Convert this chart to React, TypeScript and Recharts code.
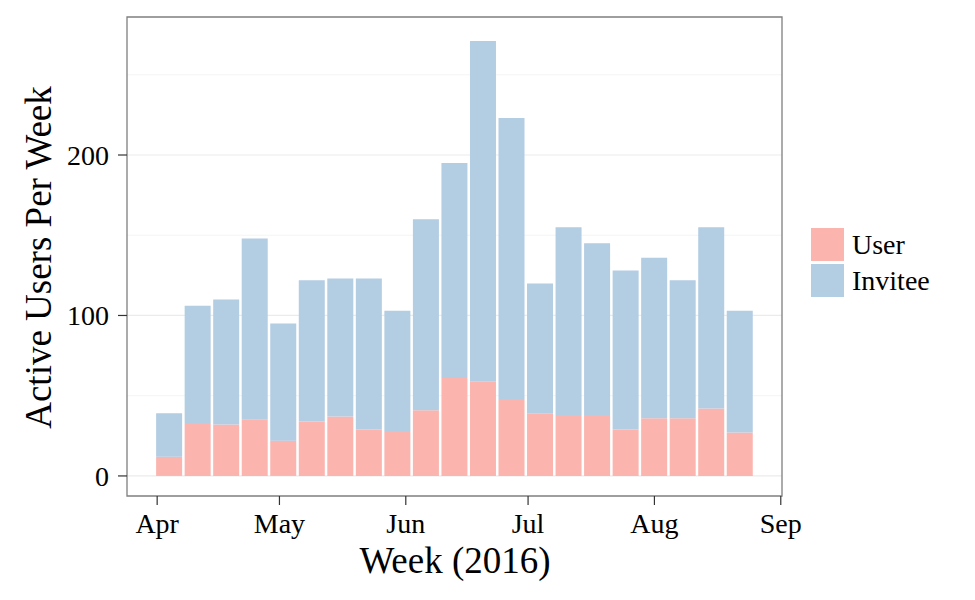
import React from 'react';
import { BarChart, Bar, XAxis, YAxis, CartesianGrid, Legend, ReferenceArea, Label } from 'recharts';

const weeks = [
  '2016-04-04', '2016-04-11', '2016-04-18', '2016-04-25', '2016-05-02', '2016-05-09', '2016-05-16',
  '2016-05-23', '2016-05-30', '2016-06-06', '2016-06-13', '2016-06-20', '2016-06-27', '2016-07-04',
  '2016-07-11', '2016-07-18', '2016-07-25', '2016-08-01', '2016-08-08', '2016-08-15', '2016-08-22',
];
const seriesNames = ['User', 'Invitee'];
const userValues = [12, 33, 32, 35, 22, 34, 37, 29, 28, 41, 61, 59, 48, 39, 38, 38, 29, 36, 36, 42, 27];
const inviteeValues = [27, 73, 78, 113, 73, 88, 86, 94, 75, 119, 134, 212, 175, 81, 117, 107, 99, 100, 86, 113, 76];
const monthTicks = ['2016-04-01', '2016-05-01', '2016-06-01', '2016-07-01', '2016-08-01', '2016-09-01'];
const monthLabels = ['Apr', 'May', 'Jun', 'Jul', 'Aug', 'Sep'];
const yTicks = [0, 100, 200];
const yMinor = [50, 150, 250];

const ORIGIN = Date.parse('2016-04-01');
const dayOf = (s: string) => (Date.parse(s) - ORIGIN) / 86400000;

const data = weeks.map((w, i) => ({ day: dayOf(w), User: userValues[i], Invitee: inviteeValues[i] }));
const tickDays = monthTicks.map(dayOf);

const FONT = '"Liberation Serif", "Times New Roman", serif';
const X_DOMAIN: [number, number] = [-7.4, 153.3];
const Y_DOMAIN: [number, number] = [-12.5, 286];

const renderLegend = (props: any) => {
  const payload = [...(props.payload || [])].sort(
    (a: any, b: any) => seriesNames.indexOf(a.value) - seriesNames.indexOf(b.value)
  );
  return (
    <div style={{ display: 'flex', flexDirection: 'column', gap: 3 }}>
      {payload.map((p: any) => (
        <div key={p.value} style={{ display: 'flex', alignItems: 'center', height: 33 }}>
          <div style={{ width: 33, height: 33, background: p.color }} />
          <span style={{ marginLeft: 8, fontFamily: FONT, fontSize: 28, color: '#000', lineHeight: '33px' }}>
            {p.value}
          </span>
        </div>
      ))}
    </div>
  );
};

export default function App() {
  return (
    <div style={{ position: 'absolute', left: 0, top: 0, width: 975, height: 600, background: '#fff' }}>
      <BarChart width={975} height={600} data={data} margin={{ top: 17, right: 193, bottom: 0, left: 0 }}>
        <CartesianGrid vertical={false} horizontalValues={yMinor} stroke="#f4f4f4" strokeWidth={1} />
        <CartesianGrid vertical={false} horizontalValues={yTicks} stroke="#ebebeb" strokeWidth={1.2} />
        <XAxis
          dataKey="day"
          type="number"
          domain={X_DOMAIN}
          allowDataOverflow
          ticks={tickDays}
          tickFormatter={(v: number) => monthLabels[tickDays.indexOf(v)] ?? ''}
          height={104}
          tickSize={9}
          tickMargin={8}
          axisLine={false}
          tickLine={{ stroke: '#333', strokeWidth: 1.2 }}
          tick={{ fill: '#000', fontSize: 28, fontFamily: FONT }}
          interval={0}
        >
          <Label
            content={() => (
              <text x={455} y={573} textAnchor="middle" fontFamily={FONT} fontSize={37} fill="#000">
                Week (2016)
              </text>
            )}
          />
        </XAxis>
        <YAxis
          type="number"
          domain={Y_DOMAIN}
          allowDataOverflow
          ticks={yTicks}
          width={127}
          tickSize={9}
          tickMargin={9}
          axisLine={false}
          tickLine={{ stroke: '#333', strokeWidth: 1.2 }}
          tick={{ fill: '#000', fontSize: 28, fontFamily: FONT }}
          interval={0}
        >
          <Label
            content={() => (
              <text
                x={51}
                y={257.5}
                transform="rotate(-90 51 257.5)"
                textAnchor="middle"
                fontFamily={FONT}
                fontSize={37}
                fill="#000"
              >
                Active Users Per Week
              </text>
            )}
          />
        </YAxis>
        <Legend
          layout="vertical"
          align="center"
          verticalAlign="middle"
          content={renderLegend}
          wrapperStyle={{ position: 'absolute', left: 811, top: 228, width: 'auto', height: 'auto' }}
        />
        <Bar dataKey="User" stackId="a" fill="#FBB4AE" barSize={26} isAnimationActive={false} />
        <Bar dataKey="Invitee" stackId="a" fill="#B3CDE3" barSize={26} isAnimationActive={false} />
        <ReferenceArea
          x1={X_DOMAIN[0]}
          x2={X_DOMAIN[1]}
          y1={Y_DOMAIN[0]}
          y2={Y_DOMAIN[1]}
          fill="none"
          stroke="#7f7f7f"
          strokeWidth={1.3}
          ifOverflow="visible"
        />
      </BarChart>
    </div>
  );
}
